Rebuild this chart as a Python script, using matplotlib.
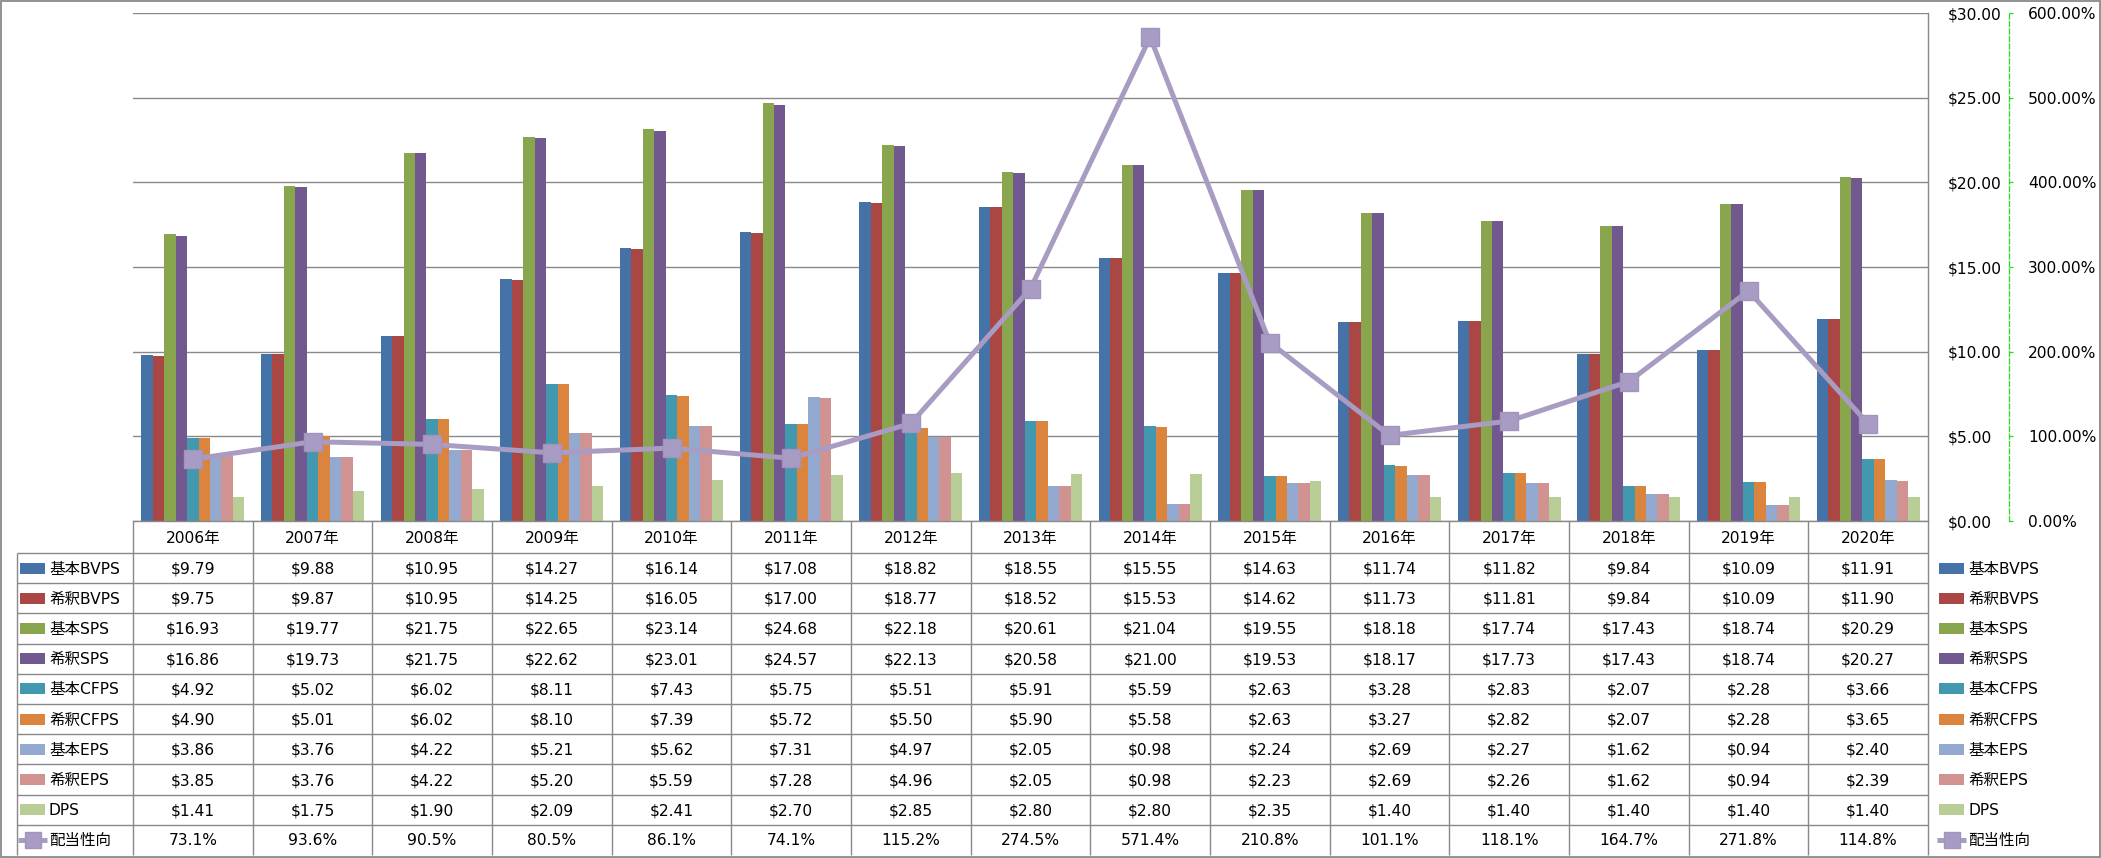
import matplotlib
matplotlib.use('Agg')
import matplotlib.pyplot as plt
import numpy as np
from matplotlib.ticker import FuncFormatter, PercentFormatter, MultipleLocator
from matplotlib.patches import Rectangle

plt.rcParams['font.family'] = ['DejaVu Sans', 'Noto Sans CJK JP']

# ---------------- data ----------------
years = ['2006年', '2007年', '2008年', '2009年', '2010年', '2011年', '2012年', '2013年',
         '2014年', '2015年', '2016年', '2017年', '2018年', '2019年', '2020年']

series_names = ['基本BVPS', '希釈BVPS', '基本SPS', '希釈SPS', '基本CFPS', '希釈CFPS',
                '基本EPS', '希釈EPS', 'DPS']

basic_bvps = [9.79, 9.88, 10.95, 14.27, 16.14, 17.08, 18.82, 18.55, 15.55, 14.63, 11.74, 11.82, 9.84, 10.09, 11.91]
diluted_bvps = [9.75, 9.87, 10.95, 14.25, 16.05, 17.00, 18.77, 18.52, 15.53, 14.62, 11.73, 11.81, 9.84, 10.09, 11.90]
basic_sps = [16.93, 19.77, 21.75, 22.65, 23.14, 24.68, 22.18, 20.61, 21.04, 19.55, 18.18, 17.74, 17.43, 18.74, 20.29]
diluted_sps = [16.86, 19.73, 21.75, 22.62, 23.01, 24.57, 22.13, 20.58, 21.00, 19.53, 18.17, 17.73, 17.43, 18.74, 20.27]
basic_cfps = [4.92, 5.02, 6.02, 8.11, 7.43, 5.75, 5.51, 5.91, 5.59, 2.63, 3.28, 2.83, 2.07, 2.28, 3.66]
diluted_cfps = [4.90, 5.01, 6.02, 8.10, 7.39, 5.72, 5.50, 5.90, 5.58, 2.63, 3.27, 2.82, 2.07, 2.28, 3.65]
basic_eps = [3.86, 3.76, 4.22, 5.21, 5.62, 7.31, 4.97, 2.05, 0.98, 2.24, 2.69, 2.27, 1.62, 0.94, 2.40]
diluted_eps = [3.85, 3.76, 4.22, 5.20, 5.59, 7.28, 4.96, 2.05, 0.98, 2.23, 2.69, 2.26, 1.62, 0.94, 2.39]
dps = [1.41, 1.75, 1.90, 2.09, 2.41, 2.70, 2.85, 2.80, 2.80, 2.35, 1.40, 1.40, 1.40, 1.40, 1.40]

payout_name = '配当性向'
payout_ratio = [73.1, 93.6, 90.5, 80.5, 86.1, 74.1, 115.2, 274.5, 571.4, 210.8, 101.1, 118.1, 164.7, 271.8, 114.8]

series_values = [basic_bvps, diluted_bvps, basic_sps, diluted_sps, basic_cfps, diluted_cfps,
                 basic_eps, diluted_eps, dps]
series_colors = ['#4572A7', '#AA4643', '#89A54E', '#71588F', '#4198AF', '#DB843D',
                 '#93A9CF', '#D19392', '#B9CD96']
line_color = '#A99CC2'

# ---------------- layout ----------------
W, H = 2101, 858
L, R, T, B = 133, 1928, 13, 521
GRID = '#898989'
FS = 11.2

fig = plt.figure(figsize=(W / 100, H / 100), dpi=100)
ax = fig.add_axes([L / W, 1 - B / H, (R - L) / W, (B - T) / H])

n = len(years)
x = np.arange(n)
bw = 0.0956
for i, (vals, c) in enumerate(zip(series_values, series_colors)):
    ax.bar(x + (i - 4) * bw, vals, width=bw, color=c, linewidth=0, zorder=2)

ax2 = ax.twinx()

ax.set_xlim(-0.5, n - 0.5)
ax.set_ylim(0, 30)
ax.set_xticks([])
ax.yaxis.tick_right()
ax.yaxis.set_major_locator(MultipleLocator(5))
ax.yaxis.set_major_formatter(FuncFormatter(lambda v, p: f'${v:.2f}'))
ax.tick_params(axis='y', length=0, pad=14.4, labelsize=FS)
ax.yaxis.grid(True, color=GRID, lw=1.0)
ax.set_axisbelow(True)
for s in ['left', 'top']:
    ax.spines[s].set_visible(False)
for s in ['right', 'bottom']:
    ax.spines[s].set_color(GRID)
    ax.spines[s].set_linewidth(1.0)

ax2.plot(x, [p / 100 for p in payout_ratio], color=line_color, lw=3.6, marker='s', ms=12.5,
         mfc='#A89CC4', mec='#A194BD', mew=1.0, solid_joinstyle='round', zorder=5)
ax2.set_ylim(0, 6)
ax2.yaxis.set_major_locator(MultipleLocator(1))
ax2.yaxis.set_major_formatter(PercentFormatter(xmax=1, decimals=2))
for s in ['left', 'top', 'bottom']:
    ax2.spines[s].set_visible(False)
ax2.spines['right'].set_position(('outward', 81 * 0.72))
ax2.spines['right'].set_color('#22DD22')
ax2.spines['right'].set_linestyle((0, (4, 2)))
ax2.spines['right'].set_linewidth(0.9)
ax2.tick_params(axis='y', direction='out', length=3, width=0.9, color='#22DD22',
                pad=10.8, labelsize=FS, labelcolor='black')

# ---------------- data table ----------------
ov = fig.add_axes([0, 0, 1, 1], facecolor='none')
ov.set_xlim(0, W)
ov.set_ylim(H, 0)
ov.axis('off')

cw = (R - L) / n
cat_top, cat_bot = B, 553
row_bot = 855
rh = (row_bot - cat_bot) / 10
lkw = dict(color=GRID, lw=1.0, solid_capstyle='butt')

for k in range(10):
    yy = cat_bot + k * rh
    ov.plot([17, R], [yy, yy], **lkw)
ov.plot([17, 17], [cat_bot, row_bot], **lkw)
for j in range(n + 1):
    xx = L + j * cw
    ov.plot([xx, xx], [cat_top, row_bot], **lkw)

for j, yr in enumerate(years):
    ov.text(L + (j + 0.5) * cw, (cat_top + cat_bot) / 2 + 1, yr, ha='center', va='center', fontsize=FS)

row_names = series_names + [payout_name]
row_vals = series_values + [payout_ratio]
for k, (name, vals) in enumerate(zip(row_names, row_vals)):
    yc = cat_bot + (k + 0.5) * rh
    for j, v in enumerate(vals):
        txt = f'{v:.1f}%' if k == 9 else f'${v:.2f}'
        ov.text(L + (j + 0.5) * cw, yc + 1, txt, ha='center', va='center', fontsize=FS)
    for (px, tx) in [(20, 49), (1939, 1968)]:
        if k < 9:
            ov.add_patch(Rectangle((px, yc - 5.5), 25, 11, color=series_colors[k], lw=0))
        else:
            ov.plot([px - 2, px + 27], [yc, yc], color=line_color, lw=3.6, solid_capstyle='butt')
            ov.plot([px + 12.5], [yc], marker='s', ms=12, mfc='#A89CC4', mec='#A194BD', mew=1.0)
        ov.text(tx, yc + 1, name, ha='left', va='center', fontsize=FS)

ov.add_patch(Rectangle((0.8, 0.8), W - 1.8, H - 1.8, fill=False, ec=GRID, lw=1.3))

fig.savefig('out.png', dpi=100)
